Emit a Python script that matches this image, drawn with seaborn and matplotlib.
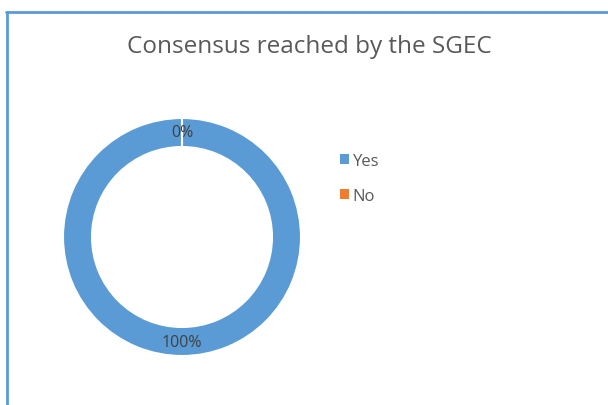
import matplotlib
matplotlib.use("Agg")
import matplotlib.pyplot as plt
from matplotlib.lines import Line2D
from matplotlib.patches import Patch
import seaborn as sns

categories = ["Yes", "No"]
values = [100, 0]
colors = ["#5B9BD5", "#ED7D31"]
title = "Consensus reached by the SGEC"

sns.set_theme(style="white")
plt.rcParams['font.family'] = ['Open Sans', 'DejaVu Sans']

fig = plt.figure(figsize=(6.08, 4.06), dpi=100)
fig.patch.set_facecolor("white")

# frame lines (chart border partially visible)
fig.add_artist(Line2D([6/608, 1.0], [1 - 13/406, 1 - 13/406], color="#5B9BD5", lw=2.0, transform=fig.transFigure))
fig.add_artist(Line2D([7/608, 7/608], [1 - 13/406, 0], color="#5B9BD5", lw=2.0, transform=fig.transFigure))

ax = fig.add_axes([63/608, (406 - 357)/406, 238/608, 238/406])
wedges, texts, autotexts = ax.pie(
    values, colors=colors, startangle=90, counterclock=False,
    autopct=lambda p: f"{p:.0f}%", pctdistance=0.885,
    wedgeprops=dict(width=29/119, edgecolor="white", linewidth=1.5),
    textprops=dict(color="#404040", fontsize=11.5),
)
ax.set_aspect("equal")
ax.set_xlim(-1, 1)
ax.set_ylim(-1, 1)
ax.axis("off")

fig.text(309/608, 1 - 47/406, title, ha="center", va="center", fontsize=17.5, color="#595959")

handles = [Patch(facecolor=c, edgecolor="none") for c in colors]
leg = fig.legend(handles, categories, loc="upper left", bbox_to_anchor=(325/608, 1 - 139/406),
                 frameon=False, handlelength=0.55, handleheight=0.55, handletextpad=0.2,
                 labelspacing=1.15, fontsize=12, labelcolor="#595959")

fig.savefig("out.png", dpi=100)
